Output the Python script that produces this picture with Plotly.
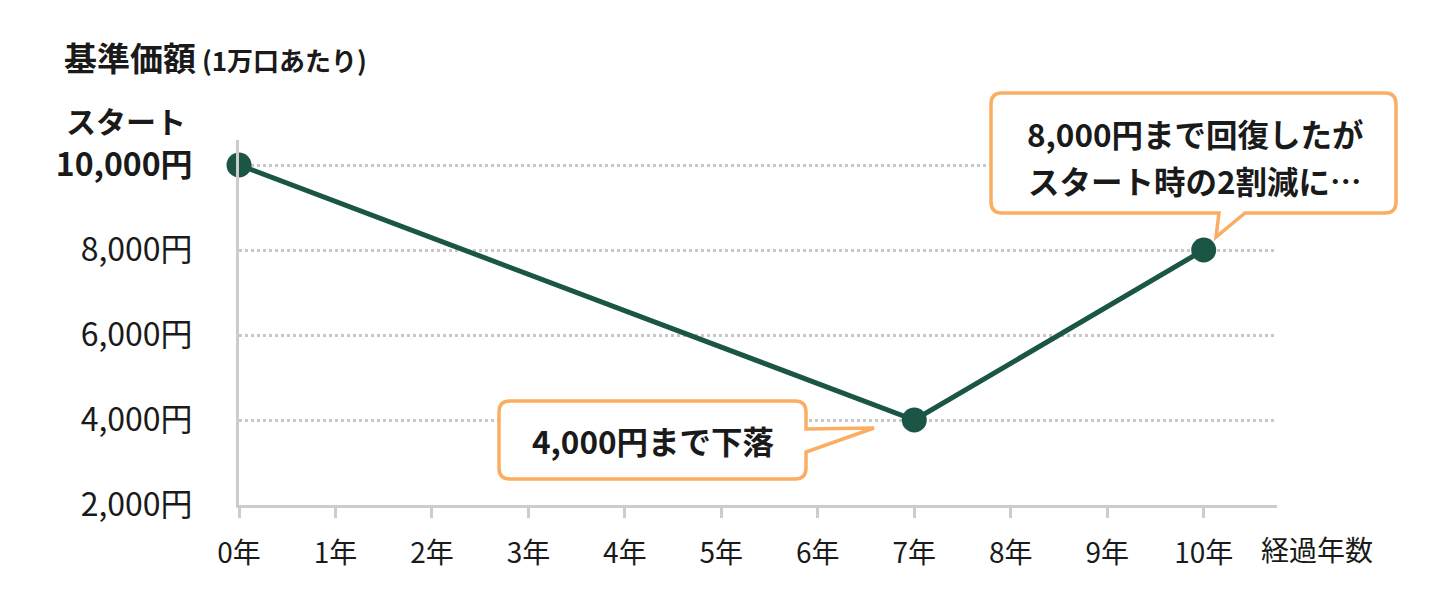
import plotly.graph_objects as go

# ---- data ----
years = [0, 7, 10]
values = [10000, 4000, 8000]
x_tickvals = list(range(0, 11))
x_ticktext = [f"{i}年" for i in x_tickvals]
y_tickvals = [2000, 4000, 6000, 8000, 10000]
y_ticktext = ["2,000円", "4,000円", "6,000円", "8,000円", "<b>10,000円</b>"]
title_main = "基準価額"
title_sub = "(1万口あたり)"
start_label = "スタート"
x_title = "経過年数"
callout_low = "4,000円まで下落"
callout_high_1 = "8,000円まで回復したが"
callout_high_2 = "スタート時の2割減に…"

# ---- layout geometry (pixels, as seen on screen) ----
WIDTH, HEIGHT = 1440, 610
OFF = 8  # default page body margin
L_SCR, R_SCR, T_SCR, B_SCR = 239, 1277, 140, 505
PW = R_SCR - L_SCR
PH = B_SCR - T_SCR
ML = L_SCR - OFF
MT = T_SCR - OFF
MR = WIDTH - ML - PW
MB = HEIGHT - MT - PH

FONT = "Noto Sans CJK JP"
TXT = "#1a1a1a"
GREEN = "#1a5546"
ORANGE = "#F9AE64"
GRAY = "#cccccc"


def P(xp, yp):
    return (xp - L_SCR) / PW, (B_SCR - yp) / PH


def path_from(points):
    out = []
    for cmd, pts in points:
        coords = []
        for (a, b) in pts:
            u, v = P(a, b)
            coords.append(f"{u:.5f},{v:.5f}")
        out.append(cmd + " ".join(coords))
    return " ".join(out) + " Z"


def callout(x0, y0, x1, y1, r, tail_side, tail):
    seg = [("M", [(x0 + r, y0)]), ("L", [(x1 - r, y0)]), ("Q", [(x1, y0), (x1, y0 + r)])]
    if tail_side == "right":
        seg += [("L", [tail[0]]), ("L", [tail[1]]), ("L", [tail[2]])]
    seg += [("L", [(x1, y1 - r)]), ("Q", [(x1, y1), (x1 - r, y1)])]
    if tail_side == "bottom":
        seg += [("L", [tail[0]]), ("L", [tail[1]]), ("L", [tail[2]])]
    seg += [("L", [(x0 + r, y1)]), ("Q", [(x0, y1), (x0, y1 - r)]),
            ("L", [(x0, y0 + r)]), ("Q", [(x0, y0), (x0 + r, y0)])]
    return path_from(seg)


fig = go.Figure()
fig.add_trace(go.Scatter(
    x=years, y=values, mode="lines+markers",
    line=dict(color=GREEN, width=5),
    marker=dict(color=GREEN, size=25),
    hoverinfo="skip", showlegend=False, cliponaxis=False,
))

shapes = [
    dict(type="path", xref="paper", yref="paper", layer="above",
         path=callout(991, 93, 1396, 213, 11, "bottom",
                      [(1245, 213), (1216, 237), (1219, 213)]),
         fillcolor="white", line=dict(color=ORANGE, width=3.5)),
    dict(type="path", xref="paper", yref="paper", layer="above",
         path=callout(499, 401, 806, 479, 11, "right",
                      [(806, 429), (874, 428), (806, 452)]),
         fillcolor="white", line=dict(color=ORANGE, width=3.5)),
]


def ann(text, xp, yp, size, xanchor="center", bold=True):
    return dict(text=f"<b>{text}</b>" if bold else text, xref="paper", yref="paper",
                x=P(xp, 0)[0], y=P(0, yp)[1], xanchor=xanchor, yanchor="middle",
                showarrow=False, font=dict(family=FONT, size=size, color=TXT))


annotations = [
    dict(text=f"<b>{title_main}</b><span style='font-size:26px'><b> {title_sub}</b></span>",
         xref="paper", yref="paper", x=P(62, 0)[0], y=P(0, 57)[1],
         xanchor="left", yanchor="middle", showarrow=False,
         font=dict(family=FONT, size=33, color=TXT)),
    ann(start_label, 188, 120, 30, xanchor="right"),
    ann(x_title, 1259, 549, 28, xanchor="left", bold=False),
    ann(callout_high_1, 1195, 133, 31.5),
    ann(callout_high_2, 1195, 180, 31.5),
    ann(callout_low, 653, 440, 31.5),
]

fig.update_layout(
    width=WIDTH, height=HEIGHT,
    margin=dict(l=ML, r=MR, t=MT, b=MB),
    plot_bgcolor="white", paper_bgcolor="white",
    shapes=shapes, annotations=annotations,
    font=dict(family=FONT, color=TXT),
    xaxis=dict(
        range=[0, 10.76], tickvals=x_tickvals, ticktext=x_ticktext,
        showgrid=False, zeroline=False,
        showline=True, linecolor=GRAY, linewidth=3,
        ticks="outside", ticklen=10, tickwidth=3, tickcolor=GRAY,
        tickfont=dict(family=FONT, size=28, color=TXT),
        ticklabelstandoff=11,
    ),
    yaxis=dict(
        range=[2000, 2000 + PH / (85 / 2000)], tickvals=y_tickvals, ticktext=y_ticktext,
        showgrid=True, gridcolor="#c8c8c8", gridwidth=3, griddash="dot",
        zeroline=False, showline=True, linecolor=GRAY, linewidth=3,
        ticks="", tickfont=dict(family=FONT, size=32, color=TXT),
        ticklabelstandoff=37,
    ),
)

fig.write_html("out.html")
